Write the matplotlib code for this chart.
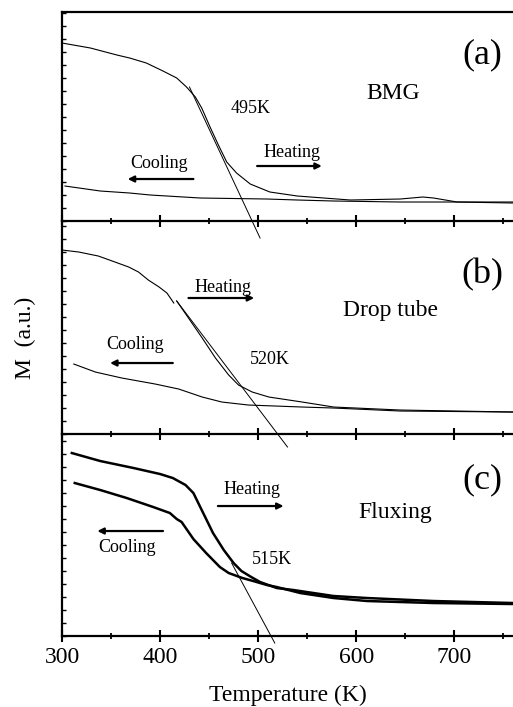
import numpy as np
import matplotlib
matplotlib.use("Agg")
import matplotlib.pyplot as plt
from matplotlib.ticker import MultipleLocator, NullFormatter

plt.rcParams['font.family'] = ['Liberation Serif', 'DejaVu Serif']

# panel (a) BMG
a_heat_T = [300, 329, 356, 369, 386, 403, 417, 427, 436, 442.5, 451, 459.5, 468, 478, 492, 512, 540, 594, 645, 668, 679, 703, 760]
a_heat_M = [178, 173, 166, 163, 158, 150, 143, 134, 124, 113, 94, 76, 59, 48, 37, 29, 25, 21, 22, 24, 23, 19, 18]
a_cool_T = [303, 339, 369, 390, 441, 509, 540, 577, 645, 713, 760]
a_cool_M = [35, 30, 28, 26, 23, 22, 21, 20, 19, 19, 19]
a_tan_T = [430, 502]
a_tan_M = [134, -17]

# panel (b) drop tube (nan = small gap in the trace)
b_heat_T = [300, 317, 337, 354, 368, 378, 388, 399, 407, 414, np.nan,
            417, 429, 443, 456.5, 470, 480, 494, 511, 545, 577, 645, 760]
b_heat_M = [184, 182, 178, 172, 167, 162, 154, 147, 141, 131, np.nan,
            133, 116, 96, 76, 59, 49, 42, 37, 32, 27, 24, 22]
b_cool_T = [312, 334, 361, 395, 419, 443, 463, 490, 545, 577, 645, 760]
b_cool_M = [70, 62, 56, 50, 45, 37, 32, 29, 27, 26, 23, 22]
b_tan_T = [417, 530]
b_tan_M = [133, -13]

# panel (c) fluxing
c_heat_T = [310, 339, 373, 400, 413, 426, 434, 444, 454, 465, 475, 483, 493, 502, 519, 536, 577, 611, 679, 760]
c_heat_M = [183, 175, 168, 162, 158, 151, 143, 123, 103, 86, 73, 65, 59, 54, 48, 46, 40, 38, 35, 33]
c_cool_T = [313, 339, 366, 393, 410, 417, 422, 434, 447, 461, 470, 484, 495, 509, 519, 543, 577, 611, 679, 760]
c_cool_M = [153, 146, 138, 129, 123, 117, 114, 97, 83, 69, 63, 58, 55, 51, 49, 43, 38, 35, 33, 32]
c_tan_T = [473, 517]
c_tan_M = [73, -7]

fig = plt.figure(figsize=(5.13, 7.07), dpi=100)

boxes = [[0.1209, 0.6874, 0.8791, 0.2956],
         [0.1209, 0.3861, 0.8791, 0.3013],
         [0.1209, 0.1004, 0.8791, 0.2857]]
tops = [209, 213, 202]

panels = [
    dict(heat=(a_heat_T, a_heat_M), cool=(a_cool_T, a_cool_M), tan=(a_tan_T, a_tan_M), lw=0.8,
         tag="(a)", tag_y=166, name="BMG", name_xy=(638, 128), tc="495K", tc_xy=(492, 113),
         heat_txt=(535, 69), heat_arr=(499, 565, 55), cool_txt=(399, 58), cool_arr=(434, 367, 42)),
    dict(heat=(b_heat_T, b_heat_M), cool=(b_cool_T, b_cool_M), tan=(b_tan_T, b_tan_M), lw=0.8,
         tag="(b)", tag_y=159, name="Drop tube", name_xy=(635, 124), tc="520K", tc_xy=(512, 75),
         heat_txt=(464, 147), heat_arr=(429, 496, 136), cool_txt=(375, 90), cool_arr=(413, 349, 71)),
    dict(heat=(c_heat_T, c_heat_M), cool=(c_cool_T, c_cool_M), tan=(c_tan_T, c_tan_M), lw=1.8,
         tag="(c)", tag_y=156, name="Fluxing", name_xy=(640, 124), tc="515K", tc_xy=(514, 77),
         heat_txt=(494, 147), heat_arr=(459, 526, 130), cool_txt=(366, 89), cool_arr=(403, 336, 105)),
]

for i, p in enumerate(panels):
    ax = fig.add_axes(boxes[i])
    ax.set_xlim(300, 760)
    ax.set_ylim(0, tops[i])
    ax.plot(*p['heat'], color='black', lw=p['lw'])
    ax.plot(*p['cool'], color='black', lw=p['lw'])
    ax.plot(*p['tan'], color='black', lw=0.7, clip_on=False, zorder=5)

    ax.text(729, p['tag_y'], p['tag'], fontsize=26, ha='center', va='center')
    ax.text(*p['name_xy'], p['name'], fontsize=17, ha='center', va='center')
    ax.text(*p['tc_xy'], p['tc'], fontsize=13, ha='center', va='center')
    ax.text(*p['heat_txt'], "Heating", fontsize=13, ha='center', va='center')
    ax.text(*p['cool_txt'], "Cooling", fontsize=13, ha='center', va='center')
    for x0, x1, y in (p['heat_arr'], p['cool_arr']):
        ax.annotate("", xy=(x1, y), xytext=(x0, y),
                    arrowprops=dict(arrowstyle='-|>', color='black', lw=1.6,
                                    mutation_scale=9, shrinkA=0, shrinkB=0))

    for s in ax.spines.values():
        s.set_linewidth(1.6)
    ax.spines['right'].set_visible(False)
    if i > 0:
        ax.spines['top'].set_visible(False)

    ax.xaxis.set_major_locator(MultipleLocator(100))
    ax.xaxis.set_minor_locator(MultipleLocator(50))
    ax.tick_params(axis='x', which='major', direction='inout', length=8, width=1.5,
                   labelsize=17, pad=4, top=False)
    ax.tick_params(axis='x', which='minor', direction='inout', length=5, width=1.3, top=False)
    ax.yaxis.set_major_locator(MultipleLocator(13))
    ax.yaxis.set_major_formatter(NullFormatter())
    ax.tick_params(axis='y', which='major', direction='in', length=3, width=1.0, right=False)
    if i < 2:
        ax.xaxis.set_major_formatter(NullFormatter())
    ax.patch.set_alpha(0)

fig.text(0.561, 0.017, "Temperature (K)", fontsize=17, ha='center', va='center')
fig.text(0.049, 0.522, "M  (a.u.)", fontsize=17, ha='center', va='center', rotation=90)

fig.savefig("out.png", dpi=100)
